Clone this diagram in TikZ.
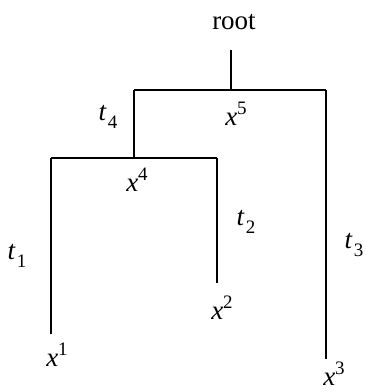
\documentclass[tikz,border=0pt]{standalone}
\usepackage{fontspec}
\setmainfont{Liberation Serif}
\newcommand{\supl}[2]{\textit{#1}\raisebox{0.42em}{\fontsize{19}{19}\selectfont #2}}
\newcommand{\subl}[2]{\textit{#1}\kern1pt\raisebox{-0.32em}{\fontsize{19}{19}\selectfont #2}}
\begin{document}
\begin{tikzpicture}[x=1pt,y=-1pt,
  branch/.style={line width=2.2pt},
  lbl/.style={inner sep=0pt,font=\fontsize{27}{30}\selectfont}]
\useasboundingbox (0,0) rectangle (366,392);
\node[lbl] (rootlbl) at (234,22) {root};
\coordinate (rtop) at (231,50);
\coordinate (n5) at (231,90);
\coordinate (n5L) at (134,90);
\coordinate (n5R) at (326,90);
\coordinate (n4) at (134,158);
\coordinate (n4L) at (51,158);
\coordinate (n4R) at (217,158);
\coordinate (leaf1) at (51,334);
\coordinate (leaf2) at (217,283);
\coordinate (leaf3) at (326,359);
\draw[branch] (rtop) -- (n5);
\draw[branch] (n5L) -- (n5R);
\draw[branch] (n5L) -- (n4);
\draw[branch] (n4L) -- (n4R);
\draw[branch] (n4L) -- (leaf1);
\draw[branch] (n4R) -- (leaf2);
\draw[branch] (n5R) -- (leaf3);
\node[lbl] (lx5) at (236,114) {\supl{x}{5}};
\node[lbl] (lt4) at (108,117) {\subl{t}{4}};
\node[lbl] (lx4) at (137,180) {\supl{x}{4}};
\node[lbl] (lt2) at (246,222) {\subl{t}{2}};
\node[lbl] (lt1) at (17,256) {\subl{t}{1}};
\node[lbl] (lt3) at (354,245) {\subl{t}{3}};
\node[lbl] (lx2) at (222,308) {\supl{x}{2}};
\node[lbl] (lx1) at (57,355) {\supl{x}{1}};
\node[lbl] (lx3) at (334,374) {\supl{x}{3}};
\end{tikzpicture}
\end{document}
